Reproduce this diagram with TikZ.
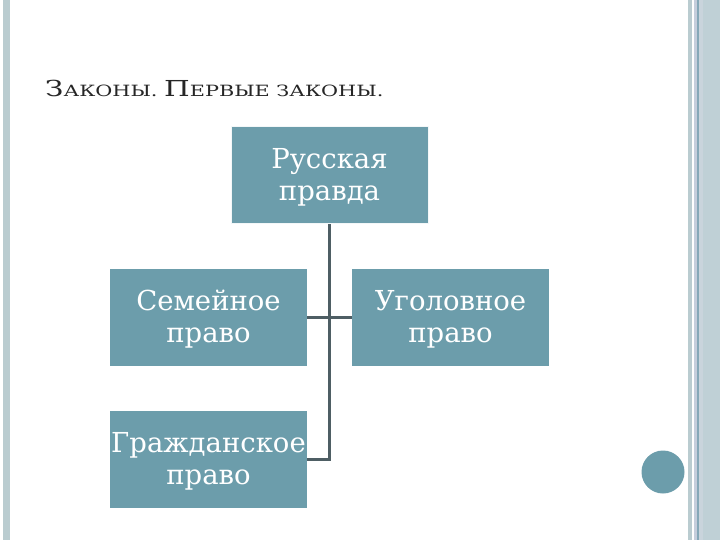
\documentclass[tikz,border=0pt]{standalone}
\usepackage{fontspec}
\setmainfont{DejaVu Serif}
\definecolor{boxfill}{HTML}{6C9DAB}
\definecolor{linecol}{HTML}{4E5E64}
\definecolor{stripeA}{HTML}{BACCD0}
\definecolor{stripeB}{HTML}{C6CEDC}
\definecolor{stripeC}{HTML}{86A8B8}
\definecolor{stripeD}{HTML}{C9D4DC}
\definecolor{stripeE}{HTML}{BFD0D6}
\definecolor{titlecol}{HTML}{262626}
\tikzset{
  lawbox/.style={draw=none, fill=boxfill, minimum width=197pt, minimum height=97pt,
    inner sep=0pt, text=white, align=center, font=\fontsize{27.5}{32}\selectfont},
  lawtext/.style={text=white, align=center, inner sep=0pt, font=\fontsize{27.5}{32}\selectfont},
  conn/.style={draw=linecol, line width=2.2pt},
}
\begin{document}
\begin{tikzpicture}[x=1pt,y=-1pt]
\useasboundingbox (0,0) rectangle (720,540);
\fill[white] (0,0) rectangle (720,540);
% left stripe
\fill[stripeA] (3,0) rectangle (10,540);
% right stripes
\fill[stripeA] (688,0) rectangle (692,540);
\fill[stripeB] (694,0) rectangle (697,540);
\fill[stripeC] (697,0) rectangle (699.3,540);
\fill[stripeD] (699.3,0) rectangle (702.7,540);
\fill[stripeE] (702.7,0) rectangle (720,540);
% title
\node[anchor=base west, inner sep=0pt, text=titlecol] (title) at (45,97)
  {\scalebox{1.34}[1]{\fontsize{22}{24}\selectfont З\fontsize{15.5}{18}\selectfont АКОНЫ. \fontsize{22}{24}\selectfont П\fontsize{15.5}{18}\selectfont ЕРВЫЕ ЗАКОНЫ.}};
% boxes
\node[lawbox, draw=white!92!boxfill, line width=1pt] (rp) at (329.5,175.5) {};
\node[lawbox] (sem) at (208.5,317.5) {};
\node[lawbox] (ugol) at (450.5,317.5) {};
\node[lawbox] (grazh) at (208.5,459.5) {};
\node[lawtext] (rpt) at ([yshift=-2pt]rp.center) {Русская\\правда};
\node[lawtext] (semt) at ([yshift=-2pt]sem.center) {Семейное\\право};
\node[lawtext] (ugolt) at ([yshift=-2pt]ugol.center) {Уголовное\\право};
\node[lawtext] (grazht) at ([yshift=-2pt]grazh.center) {Гражданское\\право};
% connectors
\draw[conn] (rp.south) -- (rp.south |- grazh.east) -- (grazh.east);
\draw[conn] (sem.east) -- (ugol.west);
% circle
\node[circle, fill=boxfill, minimum size=43pt, inner sep=0pt] (dot) at (663,472) {};
\end{tikzpicture}
\end{document}
